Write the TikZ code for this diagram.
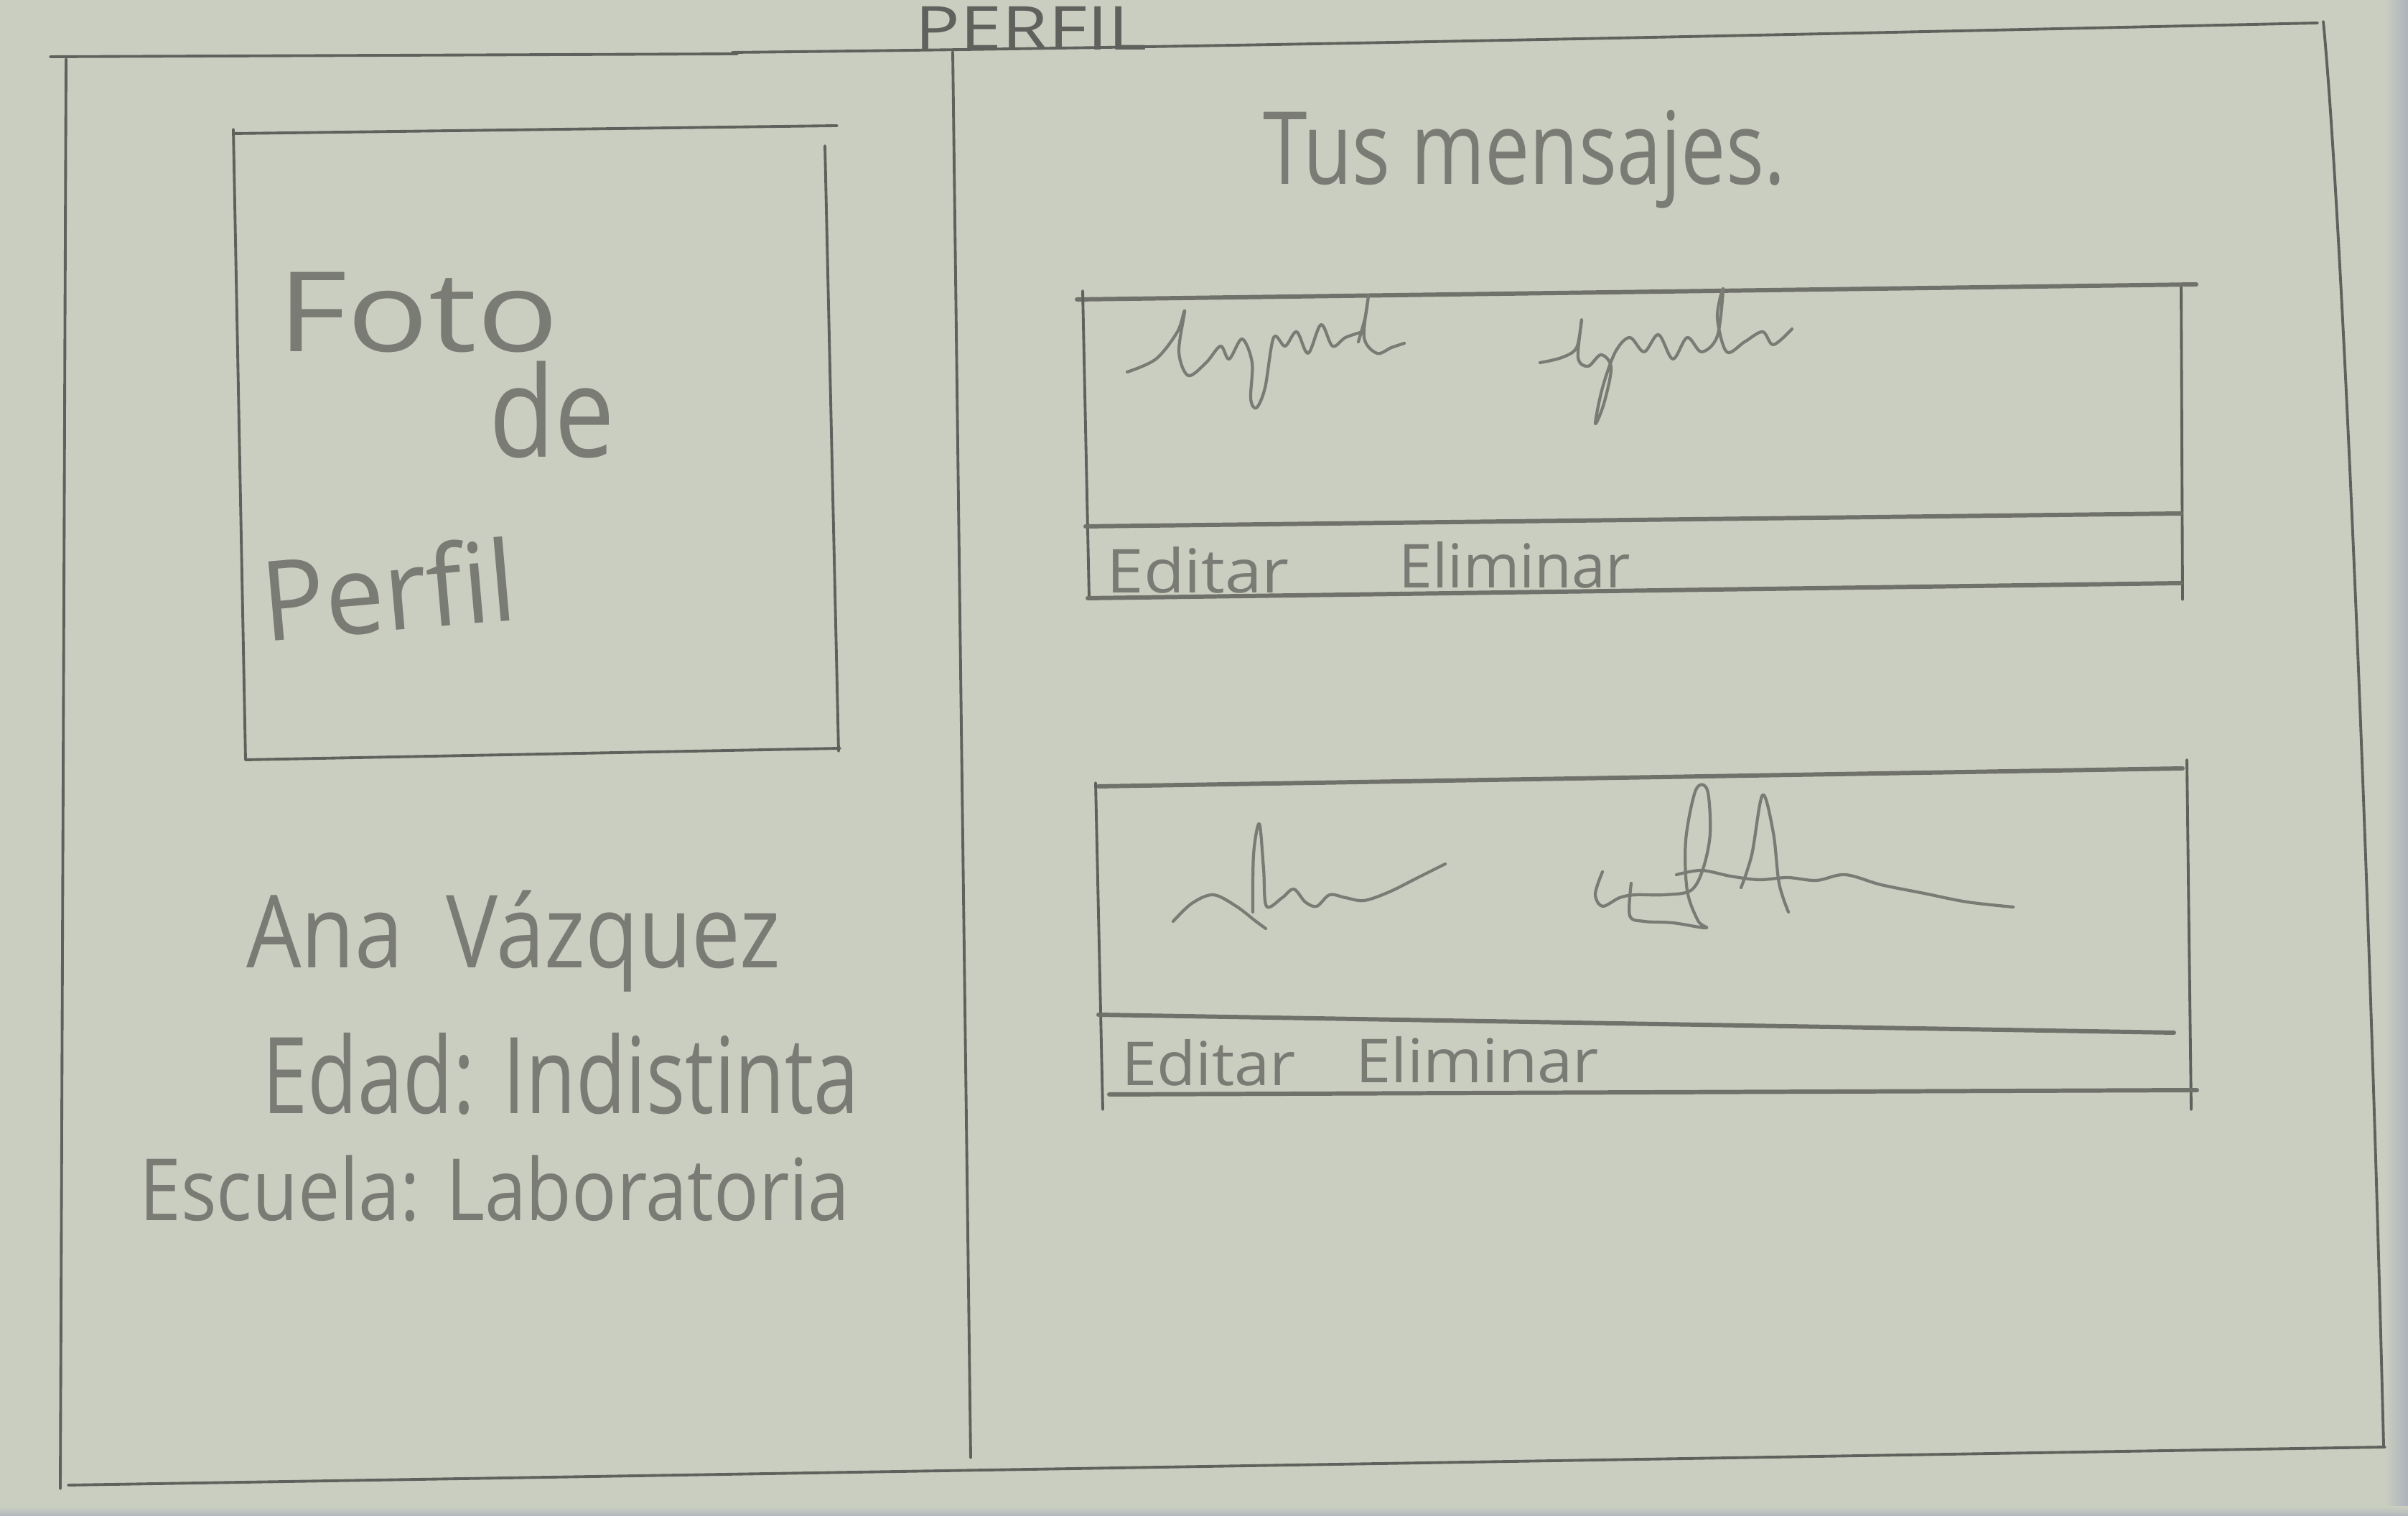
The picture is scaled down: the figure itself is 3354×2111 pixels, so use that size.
\documentclass[tikz,border=0pt]{standalone}
\usepackage{fontspec}
\setmainfont{Open Sans}
\definecolor{paper}{RGB}{202,206,192}
\definecolor{pencil}{RGB}{96,97,92}
\definecolor{lead}{RGB}{122,123,117}
\definecolor{edgeshade}{RGB}{172,178,188}
\begin{document}
\begin{tikzpicture}[x=0.05mm,y=-0.05mm,
  frame/.style={draw=pencil,line width=0.55pt,line cap=round},
  boxline/.style={draw=pencil!85!paper,line width=0.85pt,line cap=round},
  scrib/.style={draw=lead,line width=0.6pt,line cap=round,line join=round},
  hand/.style={text=lead,inner sep=0pt,anchor=base west}]
\useasboundingbox (0,0) rectangle (3354,2111);
% sheet of paper
\fill[paper] (0,0) rectangle (3354,2111);
\shade[left color=paper,right color=edgeshade] (3322,0) rectangle (3354,2111);
\shade[top color=paper,bottom color=edgeshade!80!paper] (0,2098) rectangle (3354,2111);

% page frame
\coordinate (tl) at (70,79);
\coordinate (tm) at (1027,75);
\coordinate (tr) at (3228,32);
\coordinate (rt) at (3236,30);
\coordinate (rb) at (3320,2013);
\coordinate (bl) at (95,2068);
\coordinate (br) at (3322,2015);
\coordinate (lt) at (92,82);
\coordinate (lb) at (84,2073);
\draw[frame] (tl) -- (tm);
\draw[frame] (1020,73) .. controls (1700,66) and (2600,46) .. (tr);
\draw[frame] (rt) .. controls (3262,300) and (3300,1200) .. (rb);
\draw[frame] (bl) -- (br);
\draw[frame] (lt) -- (lb);
% column divider
\coordinate (dt) at (1327,72);
\coordinate (db) at (1352,2030);
\draw[frame] (dt) -- (db);

% profile picture box
\coordinate (p1) at (325,186);
\coordinate (p2) at (1166,175);
\coordinate (p3) at (1149,203);
\coordinate (p4) at (1168,1046);
\coordinate (p5) at (342,1058);
\coordinate (p6) at (1170,1042);
\draw[frame] (p1) -- (p2);
\draw[frame] (325,180) -- (p5);
\draw[frame] (p3) -- (p4);
\draw[frame] (p5) -- (p6);

% headings and profile texts
\node[hand,text=pencil,font=\fontsize{12}{12}\selectfont] (titulo) at (1273,70) {\scalebox{1.24}[1]{PERFIL}};
\node[hand,font=\fontsize{22}{22}\selectfont] (foto) at (385,490) {\scalebox{1.22}[1]{Foto}};
\node[hand,font=\fontsize{25}{25}\selectfont] (de) at (680,637) {\scalebox{0.85}[1]{de}};
\node[hand,font=\fontsize{22}{22}\selectfont,rotate=5] (perfil) at (368,894) {\scalebox{0.95}[1]{Perfil}};
\node[hand,font=\fontsize{20}{20}\selectfont] (nombre) at (342,1348) {\scalebox{0.86}[1]{Ana\hspace{0.5em}Vázquez}};
\node[hand,font=\fontsize{21}{21}\selectfont] (edad) at (364,1551) {\scalebox{0.77}[1]{Edad: Indistinta}};
\node[hand,font=\fontsize{17}{17}\selectfont] (escuela) at (193,1700) {\scalebox{0.87}[1]{Escuela: Laboratoria}};
\node[hand,font=\fontsize{20}{20}\selectfont] (mensajes) at (1758,257) {\scalebox{0.79}[1]{Tus mensajes.}};

% first message card
\draw[boxline] (1500,417) -- (3059,396);
\draw[frame] (1508,405) -- (1517,833);
\draw[frame] (3038,400) -- (3040,835);
\draw[boxline] (1512,733) -- (3038,715);
\draw[boxline] (1515,833) -- (3038,812);
\node[hand,font=\fontsize{12}{12}\selectfont] (editar1) at (1540,826) {\scalebox{1.1}[1]{Editar}};
\node[hand,font=\fontsize{12}{12}\selectfont] (eliminar1) at (1947,819) {\scalebox{1.0}[1]{Eliminar}};
\draw[scrib] plot[smooth,tension=0.55] coordinates {(1570,518) (1610,500) (1640,462) (1650,433) (1642,490) (1655,523) (1680,505) (1700,482) (1712,500) (1730,472) (1744,505) (1742,555) (1750,568) (1762,540) (1774,470) (1790,482) (1806,462) (1822,492) (1840,452) (1856,482) (1874,470) (1898,462)};
\draw[scrib] plot[smooth,tension=0.55] coordinates {(1892,476) (1902,440) (1906,412) (1900,470) (1918,492) (1938,484) (1956,478)};
\draw[scrib] plot[smooth,tension=0.55] coordinates {(2145,505) (2175,498) (2196,484) (2203,445) (2198,498) (2212,510) (2230,494) (2244,512) (2234,562) (2222,590) (2232,540) (2250,490) (2270,470) (2290,490) (2310,466) (2330,500) (2350,470) (2370,490) (2392,468) (2400,402) (2392,442) (2405,490) (2430,476) (2455,462) (2470,480) (2496,458)};

% second message card
\draw[boxline] (1530,1095) -- (3040,1070);
\draw[frame] (1526,1090) -- (1536,1545);
\draw[frame] (3046,1058) -- (3052,1545);
\draw[boxline] (1530,1413) -- (3028,1438);
\draw[boxline] (1545,1524) -- (3060,1518);
\node[hand,font=\fontsize{12}{12}\selectfont] (editar2) at (1561,1512) {\scalebox{1.05}[1]{Editar}};
\node[hand,font=\fontsize{12}{12}\selectfont] (eliminar2) at (1887,1508) {\scalebox{1.05}[1]{Eliminar}};
\draw[scrib] plot[smooth,tension=0.55] coordinates {(1634,1283) (1660,1258) (1690,1246) (1722,1262) (1748,1282) (1763,1293)};
\draw[scrib] plot[smooth,tension=0.55] coordinates {(1745,1270) (1746,1190) (1754,1147) (1760,1210) (1764,1262) (1786,1250) (1802,1238) (1818,1256) (1834,1262) (1852,1246) (1874,1250) (1900,1254) (1935,1242) (1975,1222) (2013,1203)};
\draw[scrib] plot[smooth,tension=0.55] coordinates {(2232,1214) (2222,1245) (2232,1262) (2256,1250) (2278,1246) (2318,1246) (2355,1240) (2372,1210) (2382,1160) (2378,1100) (2362,1100) (2348,1170) (2350,1240) (2365,1282) (2376,1292) (2330,1285) (2290,1283) (2270,1275) (2272,1230)};
\draw[scrib] plot[smooth,tension=0.55] coordinates {(2335,1218) (2370,1212) (2410,1220) (2450,1225) (2490,1222) (2530,1226) (2570,1218) (2620,1232) (2680,1244) (2740,1256) (2804,1263)};
\draw[scrib] plot[smooth,tension=0.55] coordinates {(2425,1236) (2440,1190) (2455,1107) (2470,1160) (2478,1230) (2491,1270)};
\end{tikzpicture}
\end{document}
